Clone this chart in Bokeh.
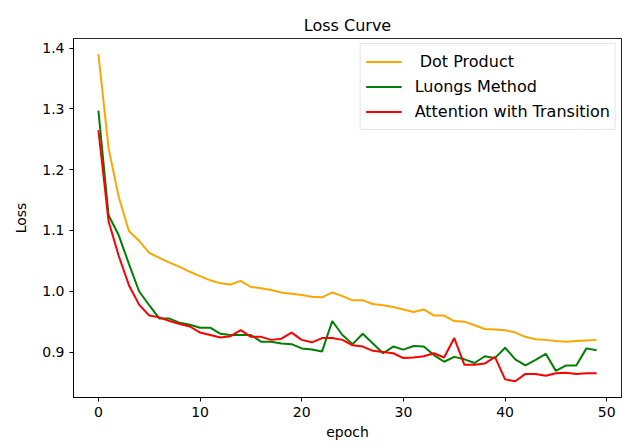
from bokeh.plotting import figure
from bokeh.models import Range1d, FixedTicker, PrintfTickFormatter, Legend, LegendItem
from bokeh.embed import file_html
from bokeh.resources import INLINE

epochs = list(range(50))
dot_product = [1.390, 1.235, 1.155, 1.099, 1.083, 1.063, 1.055, 1.047, 1.040, 1.032,
               1.025, 1.018, 1.013, 1.011, 1.017, 1.007, 1.005, 1.002, 0.998, 0.996,
               0.994, 0.991, 0.990, 0.998, 0.992, 0.985, 0.985, 0.979, 0.977, 0.974,
               0.970, 0.966, 0.970, 0.960, 0.960, 0.951, 0.950, 0.944, 0.938, 0.937,
               0.936, 0.932, 0.925, 0.921, 0.920, 0.918, 0.917, 0.918, 0.919, 0.920]
luongs = [1.297, 1.125, 1.092, 1.045, 1.000, 0.977, 0.955, 0.955, 0.948, 0.945,
          0.940, 0.940, 0.930, 0.928, 0.928, 0.928, 0.917, 0.917, 0.914, 0.913,
          0.906, 0.904, 0.901, 0.951, 0.928, 0.913, 0.930, 0.914, 0.898, 0.909,
          0.904, 0.910, 0.909, 0.895, 0.884, 0.892, 0.888, 0.882, 0.893, 0.890,
          0.907, 0.888, 0.878, 0.887, 0.897, 0.869, 0.878, 0.878, 0.906, 0.903]
attention = [1.265, 1.115, 1.058, 1.010, 0.978, 0.960, 0.957, 0.951, 0.946, 0.942,
             0.932, 0.928, 0.924, 0.926, 0.936, 0.925, 0.925, 0.920, 0.922, 0.932,
             0.920, 0.916, 0.923, 0.923, 0.920, 0.911, 0.909, 0.902, 0.900, 0.898,
             0.890, 0.891, 0.893, 0.898, 0.891, 0.923, 0.879, 0.879, 0.881, 0.892,
             0.855, 0.852, 0.864, 0.864, 0.861, 0.865, 0.866, 0.864, 0.865, 0.865]
labels = [" Dot Product", "Luongs Method", "Attention with Transition"]
colors = ["orange", "green", "red"]
x_ticks = [0, 10, 20, 30, 40, 50]
y_ticks = [0.9, 1.0, 1.1, 1.2, 1.3, 1.4]

FONT = "DejaVu Sans"

p = figure(width=623, height=447, output_backend="svg", toolbar_location=None,
           title="Loss Curve",
           x_range=Range1d(-2.45, 51.45), y_range=Range1d(0.8252, 1.4158),
           min_border_left=73, min_border_right=2, min_border_top=38, min_border_bottom=50)

p.title.align = "center"
p.title.text_font = FONT
p.title.text_font_size = "16px"
p.title.text_font_style = "normal"
p.title.text_color = "black"
p.title.offset = 0
p.title.standoff = 8

p.xgrid.visible = False
p.ygrid.visible = False
p.outline_line_color = "black"
p.outline_line_width = 1
p.outline_line_alpha = 0.85

for ax in (p.xaxis[0], p.yaxis[0]):
    ax.axis_line_color = "black"
    ax.axis_line_alpha = 0.85
    ax.major_tick_line_color = "black"
    ax.major_tick_out = 4
    ax.major_tick_in = 0
    ax.minor_tick_line_color = None
    ax.major_label_text_font = FONT
    ax.major_label_text_font_size = "14px"
    ax.major_label_text_color = "black"
    ax.axis_label_text_font = FONT
    ax.axis_label_text_font_size = "14px"
    ax.axis_label_text_font_style = "normal"
    ax.axis_label_text_color = "black"

p.xaxis.ticker = FixedTicker(ticks=x_ticks)
p.yaxis.ticker = FixedTicker(ticks=y_ticks)
p.yaxis.formatter = PrintfTickFormatter(format="%.1f")
p.xaxis.axis_label = "epoch"
p.yaxis.axis_label = "Loss"
p.xaxis.axis_label_standoff = 4
p.yaxis.axis_label_standoff = 10

items = []
for ys, lab, col in zip([dot_product, luongs, attention], labels, colors):
    r = p.line(epochs, ys, line_color=col, line_width=2)
    items.append(LegendItem(label=lab, renderers=[r]))

legend = Legend(items=items, location="top_right")
legend.label_text_font = FONT
legend.label_text_font_size = "16px"
legend.label_text_color = "black"
legend.glyph_width = 36
legend.glyph_height = 25
legend.label_height = 25
legend.label_standoff = 13
legend.spacing = 0
legend.padding = 5
legend.margin = 5
legend.border_line_color = "#cccccc"
legend.border_line_width = 1
legend.background_fill_alpha = 0.8
p.add_layout(legend)

open("out.html", "w").write(file_html(p, INLINE))
